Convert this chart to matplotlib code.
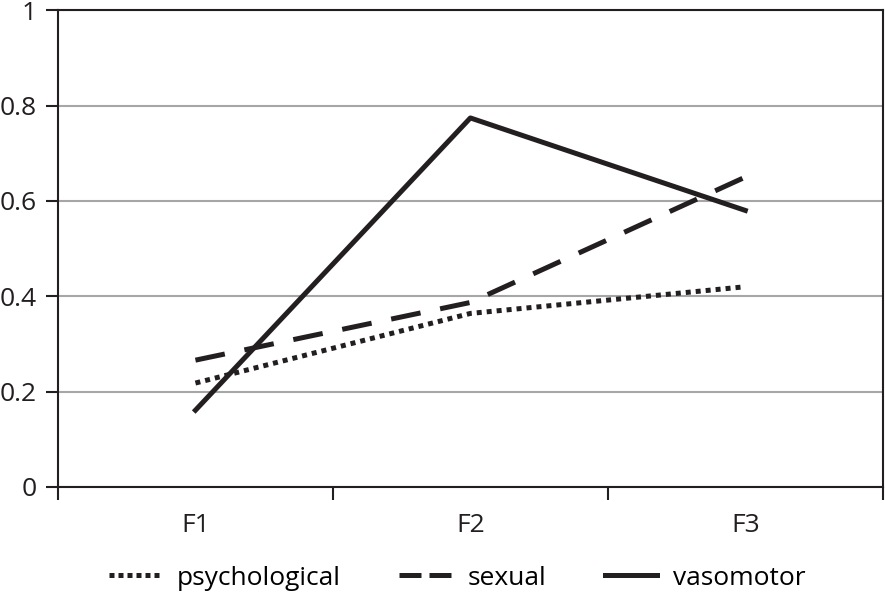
import matplotlib
matplotlib.use('Agg')
import matplotlib.pyplot as plt
from matplotlib.lines import Line2D
import numpy as np

# values
categories = ['F1', 'F2', 'F3']
psychological = [0.218, 0.364, 0.42]
sexual = [0.266, 0.387, 0.65]
vasomotor = [0.161, 0.774, 0.58]
y_ticks = [0, 0.2, 0.4, 0.6, 0.8, 1]
y_tick_labels = ['0', '0.2', '0.4', '0.6', '0.8', '1']

plt.rcParams['font.family'] = ['Open Sans', 'DejaVu Sans']
fs = 19
ink = '#231f20'

fig = plt.figure(figsize=(8.85, 5.99), dpi=100)
ax = fig.add_axes([0.0655, 0.187, 0.932, 0.796])

x = np.arange(len(categories))
ax.plot(x, psychological, color=ink, lw=3.6, linestyle=(0, (1, 1)), dash_capstyle='butt')
ax.plot(x, sexual, color=ink, lw=3.6, linestyle=(0, (6, 4)), dash_capstyle='butt')
ax.plot(x, vasomotor, color=ink, lw=3.6)

ax.set_xlim(-0.5, len(categories) - 0.5)
ax.set_ylim(0, 1)

# category labels centred, tick marks on the category boundaries
ax.set_xticks(x)
ax.set_xticklabels(categories, fontsize=fs)
ax.tick_params(axis='x', which='major', length=0, pad=19, colors=ink)
ax.set_xticks(np.arange(-0.5, len(categories)), minor=True)
ax.tick_params(axis='x', which='minor', length=9, width=1.5, color=ink)

ax.set_yticks(y_ticks)
ax.set_yticklabels(y_tick_labels, fontsize=fs)
ax.tick_params(axis='y', length=9, width=1.5, pad=6, colors=ink)

ax.grid(axis='y', color='#a6a6a6', lw=1.5)
ax.set_axisbelow(True)
for s in ax.spines.values():
    s.set_color(ink)
    s.set_linewidth(1.5)

# legend handles with the shorter dash pattern used in the key
handles = [
    Line2D([], [], color=ink, lw=3.6, linestyle=(0, (1, 0.8)), dash_capstyle='butt'),
    Line2D([], [], color=ink, lw=3.6, linestyle=(0, (4.4, 1.6)), dash_capstyle='butt'),
    Line2D([], [], color=ink, lw=3.6),
]
ax.legend(handles, ['psychological', 'sexual', 'vasomotor'], loc='upper center',
          bbox_to_anchor=(0.484, -0.115), ncol=3, frameon=False, fontsize=fs,
          handlelength=2.0, columnspacing=2.2, handletextpad=0.6)

fig.savefig('out.png', dpi=100)
